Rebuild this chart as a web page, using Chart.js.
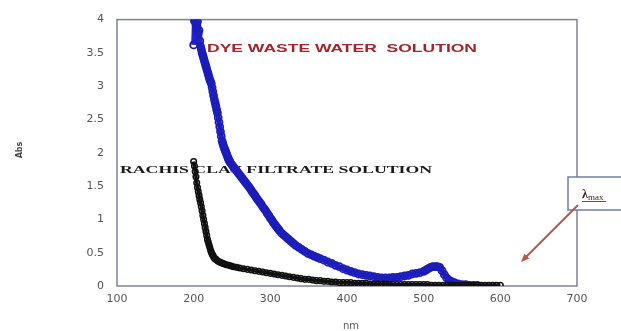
<!DOCTYPE html>
<html>
<head>
<meta charset="utf-8">
<script src="https://cdn.jsdelivr.net/npm/chart.js@4.4.1/dist/chart.umd.min.js"></script>
<style>
  html, body { margin: 0; padding: 0; background: #ffffff; }
  #wrap { width: 621px; height: 331px; position: relative; }
</style>
</head>
<body>
<div id="wrap"><canvas id="uv"></canvas></div>
<script>
// UV-Vis absorbance spectra (wavelength in nm, absorbance)
const dyeNm = [200,201,202,203,204,205,206,207,208,209,210,211,212,213,214,215,216,217,218,219,220,221,222,223,224,225,226,227,228,229,230,231,232,233,234,235,236,237,238,239,240,241,242,243,244,245,246,247,248,250,252,254,256,258,260,262,264,266,268,270,272,274,276,278,280,282,284,286,288,290,292,294,296,298,300,302,304,306,308,310,312,315,318,321,324,327,330,333,337,341,345,349,353,357,361,365,370,375,380,385,390,395,400,405,410,415,420,425,430,435,440,445,450,455,460,465,470,475,480,485,490,495,500,503,506,509,512,515,518,521,524,527,530,533,536,540,545,550,555,560,565,570];
const dyeAbs = [3.62,3.98,3.99,3.93,3.87,3.97,3.80,3.84,3.68,3.60,3.55,3.50,3.46,3.42,3.38,3.34,3.30,3.26,3.22,3.18,3.14,3.10,3.07,3.04,2.98,2.92,2.86,2.80,2.75,2.70,2.65,2.60,2.53,2.46,2.39,2.32,2.25,2.18,2.14,2.10,2.07,2.04,2.01,1.98,1.95,1.92,1.89,1.87,1.85,1.82,1.79,1.76,1.73,1.70,1.67,1.64,1.61,1.58,1.55,1.52,1.49,1.46,1.42,1.39,1.36,1.32,1.29,1.26,1.23,1.19,1.16,1.13,1.09,1.06,1.02,0.99,0.95,0.92,0.89,0.86,0.83,0.79,0.76,0.73,0.70,0.67,0.64,0.61,0.58,0.55,0.52,0.49,0.47,0.45,0.43,0.41,0.39,0.36,0.34,0.31,0.29,0.26,0.24,0.22,0.20,0.18,0.17,0.16,0.15,0.14,0.13,0.12,0.12,0.12,0.13,0.13,0.14,0.15,0.16,0.18,0.19,0.20,0.22,0.24,0.26,0.28,0.29,0.29,0.29,0.28,0.23,0.17,0.12,0.09,0.07,0.05,0.03,0.02,0.02,0.01,0.01,0.01];

const clayNm = [200,201,202,203,204,205,206,207,208,209,210,211,212,213,214,215,216,217,218,219,220,221,222,223,224,225,226,227,228,229,230,232,234,236,238,240,243,246,249,252,256,260,265,270,275,280,285,290,295,300,305,310,315,320,325,330,335,340,345,350,355,360,365,370,375,380,385,390,395,400,405,410,415,420,425,430,435,440,445,450,455,460,465,470,475,480,485,490,495,500,505,510,515,520,525,530,535,540,545,550,555,560,565,570,575,580,585,590,595,600];
const clayAbs = [1.87,1.80,1.72,1.64,1.55,1.48,1.42,1.36,1.30,1.25,1.19,1.13,1.06,1.00,0.94,0.88,0.82,0.76,0.70,0.66,0.62,0.58,0.54,0.51,0.48,0.46,0.44,0.42,0.41,0.40,0.39,0.37,0.36,0.35,0.34,0.33,0.32,0.31,0.30,0.29,0.28,0.27,0.26,0.25,0.24,0.23,0.22,0.21,0.20,0.19,0.18,0.17,0.16,0.15,0.14,0.13,0.12,0.11,0.10,0.10,0.09,0.08,0.08,0.07,0.07,0.06,0.06,0.05,0.05,0.05,0.05,0.04,0.04,0.04,0.04,0.03,0.03,0.03,0.03,0.03,0.03,0.02,0.02,0.02,0.02,0.02,0.02,0.02,0.02,0.02,0.02,0.01,0.01,0.01,0.01,0.01,0.01,0.01,0.01,0.01,0.01,0.01,0.01,0.01,0.01,0.01,0.01,0.01,0.01,0.01];

const xTicks = [100,200,300,400,500,600,700];
const yTicks = [0,0.5,1,1.5,2,2.5,3,3.5,4];

const dyeLabel = 'DYE WASTE WATER  SOLUTION';
const clayLabel = 'RACHIS CLAY FILTRATE SOLUTION';

const toPoints = (xs, ys) => xs.map((x, i) => ({ x: x, y: ys[i] }));

// Draws text squeezed or stretched horizontally to span a given width
function fitText(ctx, text, x, y, width) {
  const w = ctx.measureText(text).width;
  ctx.save();
  ctx.translate(x, y);
  ctx.scale(width / w, 1);
  ctx.fillText(text, 0, 0);
  ctx.restore();
}

const decorations = {
  id: 'decorations',
  beforeDatasetsDraw(chart) {
    const ctx = chart.ctx;
    const a = chart.chartArea;
    // plot frame
    ctx.save();
    ctx.strokeStyle = '#7f8296';
    ctx.lineWidth = 1.5;
    ctx.strokeRect(a.left, a.top, a.right - a.left, a.bottom - a.top);
    // series captions
    ctx.textBaseline = 'middle';
    ctx.textAlign = 'left';
    ctx.fillStyle = '#a3242c';
    ctx.font = 'bold 11px "Liberation Sans", Arial, sans-serif';
    fitText(ctx, dyeLabel, 207, 49, 270);
    ctx.fillStyle = '#1a1a1a';
    ctx.font = 'bold 11px "Liberation Serif", "Times New Roman", serif';
    fitText(ctx, clayLabel, 120, 170, 312);
    ctx.restore();
  },
  afterDraw(chart) {
    const ctx = chart.ctx;
    ctx.save();
    // axis titles
    ctx.fillStyle = '#555555';
    ctx.font = '10px "DejaVu Sans", sans-serif';
    ctx.textAlign = 'center';
    ctx.textBaseline = 'middle';
    ctx.fillText('nm', 351, 326);
    ctx.save();
    ctx.translate(20, 150);
    ctx.rotate(-Math.PI / 2);
    ctx.font = 'bold 8px "DejaVu Sans", sans-serif';
    ctx.fillStyle = '#444444';
    ctx.fillText('Abs', 0, 0);
    ctx.restore();

    // lambda max callout box
    ctx.fillStyle = '#ffffff';
    ctx.fillRect(568, 177, 60, 33);
    ctx.strokeStyle = '#6f80a3';
    ctx.lineWidth = 1.5;
    ctx.strokeRect(568, 177, 60, 33);
    ctx.fillStyle = '#3b2a12';
    ctx.textAlign = 'left';
    ctx.textBaseline = 'alphabetic';
    ctx.font = 'bold 12px "Liberation Serif", serif';
    ctx.fillText('λ', 582, 198);
    ctx.font = '9px "Liberation Serif", serif';
    ctx.fillText('max', 588, 200);
    ctx.fillRect(582, 201, 24, 0.8);

    // arrow from the callout down toward the baseline
    const x0 = 578, y0 = 205, x1 = 521, y1 = 262;
    ctx.strokeStyle = '#b9544f';
    ctx.fillStyle = '#b9544f';
    ctx.lineWidth = 2;
    ctx.beginPath();
    ctx.moveTo(x0, y0);
    ctx.lineTo(x1 + 5, y1 - 5);
    ctx.stroke();
    const ang = Math.atan2(y1 - y0, x1 - x0);
    ctx.beginPath();
    ctx.moveTo(x1, y1);
    ctx.lineTo(x1 - 9 * Math.cos(ang - 0.4), y1 - 9 * Math.sin(ang - 0.4));
    ctx.lineTo(x1 - 9 * Math.cos(ang + 0.4), y1 - 9 * Math.sin(ang + 0.4));
    ctx.closePath();
    ctx.fill();
    ctx.restore();
  }
};

new Chart(document.getElementById('uv'), {
  type: 'scatter',
  data: {
    datasets: [
      {
        label: clayLabel,
        data: toPoints(clayNm, clayAbs),
        showLine: true,
        borderColor: '#111111',
        borderWidth: 3.5,
        pointRadius: 2.8,
        pointBorderWidth: 1.5,
        pointBorderColor: '#111111',
        pointBackgroundColor: 'rgba(0,0,0,0)'
      },
      {
        label: dyeLabel,
        data: toPoints(dyeNm, dyeAbs),
        showLine: true,
        borderColor: '#2222d0',
        borderWidth: 5,
        pointRadius: 3.5,
        pointBorderWidth: 1.8,
        pointBorderColor: '#1c1cb8',
        pointBackgroundColor: 'rgba(0,0,0,0)'
      }
    ]
  },
  options: {
    responsive: true,
    maintainAspectRatio: false,
    animation: false,
    layout: { padding: { left: 0, top: 16, right: 44, bottom: 0 } },
    plugins: { legend: { display: false }, tooltip: { enabled: false } },
    scales: {
      x: {
        type: 'linear',
        min: 100,
        max: 700,
        afterBuildTicks: s => { s.ticks = xTicks.map(v => ({ value: v })); },
        afterFit: s => { s.height = 45; },
        grid: { display: false, drawTicks: false },
        border: { display: false },
        ticks: {
          padding: 7,
          color: '#555555',
          font: { family: '"DejaVu Sans", sans-serif', size: 11 },
          callback: v => String(v)
        }
      },
      y: {
        type: 'linear',
        min: 0,
        max: 4,
        afterBuildTicks: s => { s.ticks = yTicks.map(v => ({ value: v })); },
        afterFit: s => { s.width = 117; },
        grid: { display: false, drawTicks: false },
        border: { display: false },
        ticks: {
          padding: 13,
          color: '#555555',
          font: { family: '"DejaVu Sans", sans-serif', size: 11 },
          callback: v => String(v)
        }
      }
    }
  },
  plugins: [decorations]
});
</script>
</body>
</html>
